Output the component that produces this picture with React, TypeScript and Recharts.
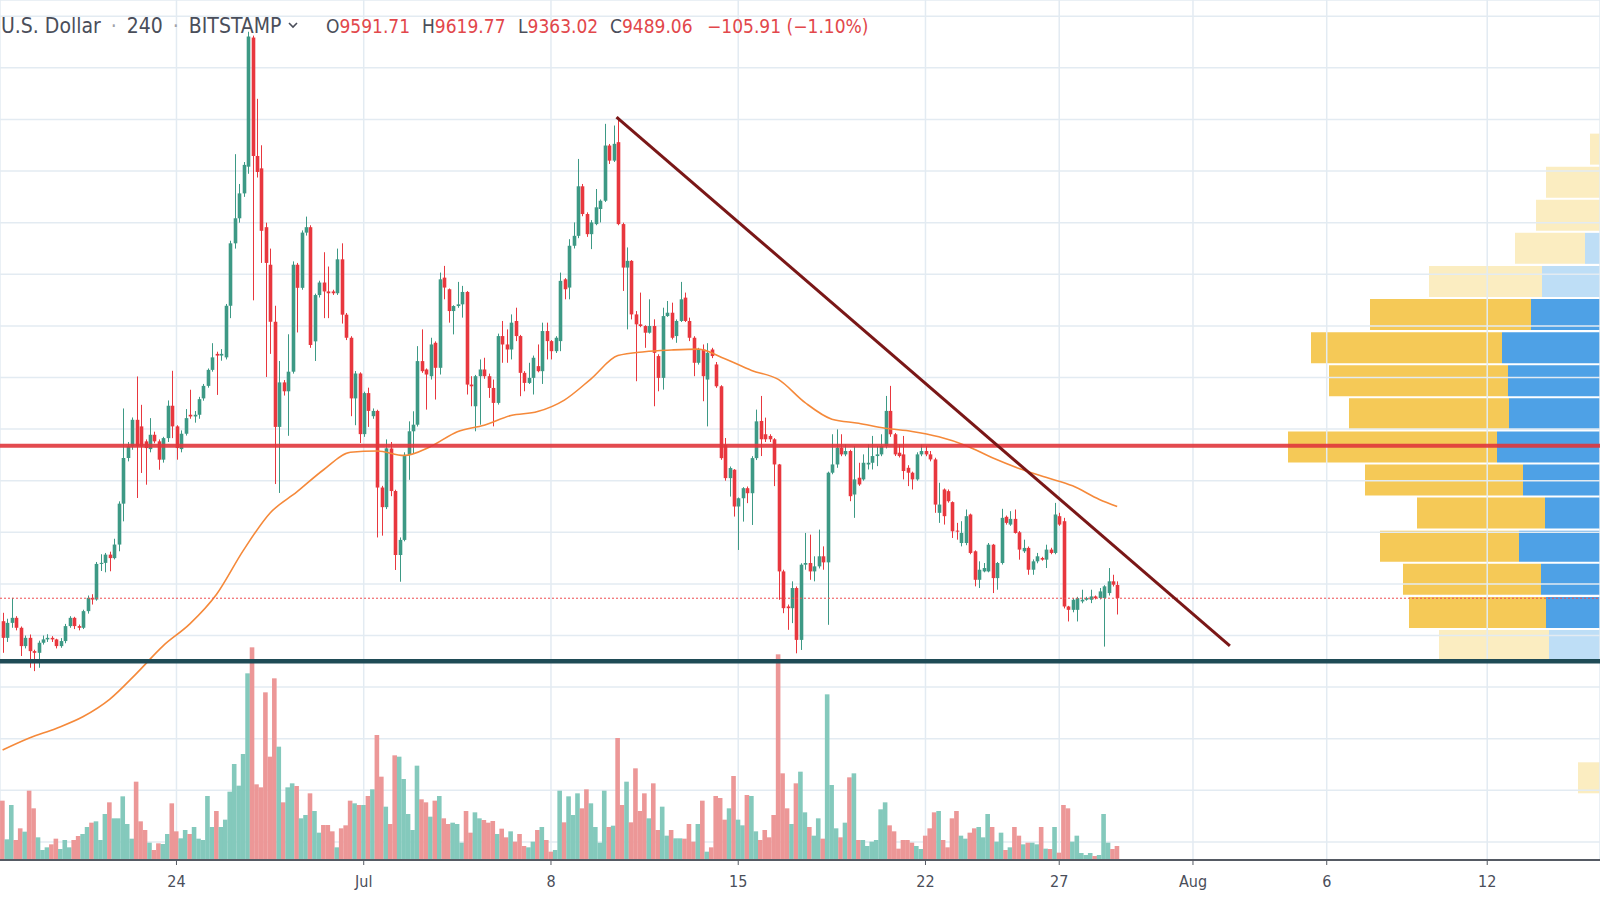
import React from 'react';
import { ComposedChart, BarChart, Bar, Line, XAxis, YAxis, CartesianGrid, ReferenceLine, Cell } from 'recharts';

const W = 1600;
const H = 900;

// BTC/USD Bitstamp, 4h bars. First bar: 17 Jun 12:00 UTC. Time unit = days since 1 Jun 00:00.
const firstBar = 16.5;
const timeDomain: [number, number] = [16.403, 76.216];
const priceDomain: [number, number] = [7460, 14126];

// [open, high, low, close]
const ohlc: [number, number, number, number][] = [
  [9311, 9376, 9066, 9182], [9182, 9330, 9150, 9298], [9298, 9492, 9260, 9337], // 17 Jun
  [9337, 9350, 9240, 9260], [9260, 9270, 9041, 9118], [9118, 9200, 9100, 9182], [9182, 9208, 8950, 9079], [9079, 9090, 8924, 9066], [9066, 9160, 8950, 9144], // 18
  [9144, 9200, 9130, 9170], [9170, 9210, 9150, 9182], [9182, 9195, 9150, 9170], [9170, 9175, 9100, 9118], [9118, 9180, 9105, 9157], [9157, 9290, 9140, 9273], // 19
  [9273, 9350, 9260, 9337], [9337, 9345, 9250, 9273], [9273, 9285, 9240, 9260], [9260, 9400, 9250, 9389], [9389, 9510, 9370, 9492], [9492, 9520, 9440, 9479], // 20
  [9479, 9770, 9470, 9755], [9755, 9830, 9700, 9763], [9763, 9840, 9690, 9827], [9827, 9850, 9698, 9800], [9800, 9950, 9790, 9905], [9905, 10240, 9853, 10222], // 21
  [10222, 10960, 10085, 10576], [10576, 10700, 10550, 10666], [10666, 10890, 10640, 10872], [10872, 11208, 10266, 10666], [10821, 10988, 10460, 10666], [10705, 10720, 10369, 10653], // 22
  [10645, 10885, 10620, 10756], [10756, 10780, 10690, 10705], [10705, 10720, 10485, 10563], [10563, 10740, 10540, 10730], [10730, 11022, 10700, 10981], [10981, 11252, 10730, 10821], // 23
  [10821, 10830, 10563, 10653], [10645, 10790, 10620, 10764], [10764, 10955, 10750, 10885], [10911, 11105, 10880, 10898], [10898, 10940, 10850, 10911], [10911, 11050, 10880, 11032], // 24
  [11038, 11150, 11020, 11135], [11135, 11270, 11121, 11259], [11259, 11466, 11245, 11356], [11383, 11400, 11065, 11370], [11370, 11420, 11330, 11383], [11356, 11770, 11340, 11756], // 25
  [11756, 12260, 11660, 12240], [12240, 12931, 12199, 12434], [12434, 12700, 12400, 12627], [12627, 12870, 12600, 12848], [12834, 13880, 12779, 13843], [13835, 13850, 11798, 12917], // 26
  [12917, 13360, 12750, 12793], [12821, 13000, 12088, 12337], [12365, 12400, 11204, 12088], [12074, 12199, 11383, 11632], [11632, 11756, 10374, 10817], [10817, 11328, 10305, 11162], // 27
  [11162, 11180, 11060, 11093], [11093, 11535, 10748, 11245], [11245, 12100, 11230, 12074], [12074, 12088, 11549, 11895], [11895, 12340, 11880, 12323], [12323, 12447, 12300, 12365], // 28
  [12365, 12380, 11430, 11452], [11480, 11850, 11328, 11839], [11839, 11950, 11820, 11936], [11936, 12171, 11660, 11867], [11867, 12060, 11660, 11853], [11867, 11880, 11840, 11853], // 29
  [11853, 12199, 11840, 12116], [12116, 12240, 11618, 11687], [11687, 11700, 11490, 11508], [11508, 11520, 10900, 11038], [11038, 11250, 10830, 11231], [11231, 11240, 10692, 10761], // 30
  [10761, 11090, 10740, 11079], [11079, 11121, 10817, 10941], [10900, 10960, 10880, 10941], [10941, 10950, 9960, 10347], [10347, 10360, 9974, 10195], [10195, 10720, 10180, 10651], // 1 Jul
  [10650, 10700, 10280, 10320], [10320, 10330, 9708, 9824], [9824, 9960, 9617, 9941], [9941, 10620, 9930, 10601], [10601, 10860, 10407, 10783], [10783, 10938, 10614, 10834], // 2
  [10834, 11443, 10820, 11327], [11327, 11573, 11236, 11249], [11262, 11270, 10951, 11223], [11210, 11508, 11184, 11456], [11469, 11480, 11029, 11275], [11275, 12013, 11223, 11961], // 3
  [11974, 12065, 11806, 11897], [11884, 11890, 11625, 11715], [11715, 11760, 11534, 11754], [11754, 11941, 11740, 11767], [11767, 11910, 11664, 11863], [11863, 11870, 11068, 11145], // 4
  [11145, 11210, 10977, 11132], [10977, 11220, 10783, 11210], [11210, 11340, 10834, 11262], [11262, 11353, 11190, 11210], [11210, 11230, 11042, 11119], [11119, 11184, 10821, 11003], // 5
  [11003, 11540, 10990, 11521], [11521, 11638, 11314, 11456], [11456, 11573, 11314, 11417], [11417, 11689, 11340, 11625], [11638, 11741, 11482, 11521], [11521, 11530, 11055, 11236], // 6
  [11236, 11249, 11093, 11158], [11158, 11314, 11150, 11197], [11197, 11370, 11068, 11353], [11288, 11456, 11240, 11249], [11249, 11625, 11150, 11560], [11560, 11625, 11340, 11482], // 7
  [11482, 11490, 11340, 11404], [11404, 11520, 11390, 11508], [11482, 12013, 11404, 11949], [11961, 11970, 11806, 11884], [11897, 12272, 11806, 12221], [12221, 12402, 12200, 12298], // 8
  [12298, 12894, 12280, 12682], [12682, 12700, 12450, 12467], [12467, 12480, 12290, 12311], [12311, 12420, 12195, 12402], [12389, 12661, 12380, 12519], [12506, 12580, 12402, 12570], // 9
  [12570, 13166, 12560, 12998], [12998, 13010, 12855, 12881], [12881, 13153, 12870, 13011], [13024, 13220, 12380, 12389], [12389, 12400, 11871, 12052], [12052, 12208, 11573, 12104], // 10
  [12104, 12110, 11650, 11689], [11689, 11715, 11171, 11612], [11612, 11858, 11590, 11599], [11599, 11605, 11430, 11547], [11547, 11806, 11540, 11599], [11599, 11651, 10977, 11391], // 11
  [11366, 11380, 11093, 11197], [11197, 11741, 11106, 11676], [11676, 11793, 11670, 11702], [11702, 11780, 11495, 11508], [11521, 11650, 11469, 11638], [11638, 11941, 11630, 11806], // 12
  [11819, 11858, 11630, 11638], [11638, 11664, 11482, 11508], [11508, 11520, 11210, 11314], [11314, 11430, 11300, 11417], [11417, 11456, 11016, 11210], [11184, 11466, 10821, 11391], // 13
  [11417, 11430, 11350, 11366], [11301, 11320, 11120, 11132], [11132, 11140, 10562, 10575], [10679, 10731, 10400, 10420], [10420, 10510, 10277, 10498], [10485, 10490, 10122, 10200], // 14
  [10200, 10270, 9863, 10264], [10264, 10350, 10083, 10342], [10342, 10355, 10226, 10303], [10303, 10590, 10057, 10575], [10575, 10951, 10560, 10860], [10863, 11057, 10591, 10721], // 15
  [10760, 10889, 10700, 10721], [10747, 10760, 10700, 10721], [10721, 10730, 10358, 10526], [10526, 10530, 9477, 9697], [9697, 9710, 9373, 9412], [9425, 9440, 9244, 9412], // 16
  [9412, 9620, 9296, 9568], [9568, 9580, 9062, 9166], [9166, 9760, 9088, 9749], [9749, 9995, 9710, 9762], [9762, 9982, 9632, 9697], [9697, 9814, 9620, 9736], // 17
  [9736, 10021, 9720, 9814], [9814, 9891, 9710, 9767], [9767, 10470, 9283, 10462], [10462, 10760, 10450, 10526], [10526, 10798, 10500, 10656], [10656, 10760, 10590, 10604], // 18
  [10604, 10682, 10590, 10630], [10630, 10640, 10241, 10280], [10293, 10669, 10112, 10410], [10423, 10539, 10360, 10371], [10410, 10604, 10400, 10539], [10526, 10682, 10487, 10539], // 19
  [10539, 10747, 10487, 10591], [10591, 10669, 10513, 10604], [10604, 10760, 10590, 10669], [10669, 11057, 10650, 10941], [10941, 11135, 10740, 10760], [10760, 10770, 10591, 10604], // 20
  [10617, 10682, 10580, 10591], [10604, 10747, 10410, 10475], [10500, 10520, 10358, 10462], [10462, 10470, 10332, 10410], [10410, 10620, 10400, 10604], [10604, 10682, 10590, 10630], // 21
  [10630, 10669, 10590, 10604], [10604, 10630, 10550, 10565], [10565, 10578, 10151, 10215], [10151, 10384, 10073, 10215], [10332, 10340, 10060, 10125], [10319, 10332, 10230, 10241], // 22
  [10234, 10240, 9956, 10008], [10013, 10073, 9943, 10008], [9917, 10086, 9891, 9995], [9917, 10177, 9900, 10125], [10138, 10145, 9830, 9840], [9853, 9860, 9581, 9632], // 23
  [9632, 9775, 9568, 9710], [9697, 9762, 9690, 9723], [9697, 9917, 9690, 9904], [9904, 9910, 9529, 9645], [9645, 9770, 9555, 9762], [9762, 10182, 9750, 10112], // 24
  [10120, 10130, 10060, 10073], [10060, 10164, 10050, 10104], [10104, 10177, 9990, 9995], [10000, 10010, 9788, 9866], [9853, 9943, 9840, 9879], [9879, 9890, 9671, 9710], // 25
  [9710, 9790, 9671, 9775], [9775, 9840, 9760, 9814], [9801, 9810, 9780, 9788], [9788, 9904, 9723, 9866], [9866, 9880, 9830, 9840], [9840, 10228, 9830, 10138], // 26
  [10125, 10151, 10050, 10060], [10086, 10112, 9410, 9425], [9425, 9430, 9309, 9399], [9399, 9490, 9380, 9477], [9399, 9500, 9309, 9490], [9464, 9555, 9450, 9477], // 27
  [9477, 9500, 9470, 9490], [9477, 9555, 9451, 9503], [9503, 9510, 9480, 9490], [9490, 9568, 9480, 9542], [9490, 9590, 9114, 9581], [9529, 9723, 9510, 9620], // 28
  [9620, 9671, 9580, 9594], [9591.71, 9619.77, 9363.02, 9489.06], // 29
];

const volumes: number[] = [
  178, 62, 165, 60, 95, 85, 208, 155, 68, 30, 38, 47, 64, 33, 60, 38, 60, 72, 78, 99,
  112, 116, 60, 138, 173, 125, 125, 191, 108, 64, 235, 116, 90, 52, 30, 50, 48, 78, 170, 86,
  65, 90, 78, 99, 64, 60, 192, 99, 147, 99, 121, 205, 288, 223, 318, 560, 638, 227, 218, 503,
  310, 545, 340, 173, 218, 230, 222, 125, 135, 200, 147, 82, 105, 105, 86, 38, 95, 104, 178, 170,
  165, 165, 192, 212, 375, 250, 160, 108, 314, 310, 243, 138, 90, 283, 182, 173, 130, 178, 192, 125,
  108, 112, 108, 52, 147, 82, 143, 125, 120, 112, 117, 78, 94, 68, 86, 55, 78, 42, 38, 55,
  90, 99, 60, 25, 30, 208, 113, 191, 135, 200, 155, 212, 170, 99, 52, 208, 99, 103, 366, 165,
  235, 113, 275, 147, 200, 125, 230, 90, 160, 73, 90, 65, 65, 64, 108, 55, 108, 178, 25, 38,
  192, 186, 121, 155, 252, 121, 104, 195, 192, 86, 60, 90, 68, 135, 617, 260, 155, 108, 230, 265,
  143, 99, 73, 125, 64, 497, 225, 95, 68, 112, 248, 260, 60, 60, 42, 55, 60, 152, 173, 104,
  86, 34, 60, 60, 52, 42, 33, 73, 95, 143, 147, 60, 38, 125, 147, 73, 64, 82, 95, 99,
  68, 138, 99, 55, 82, 30, 38, 99, 73, 47, 52, 52, 47, 99, 34, 33, 99, 22, 165, 155,
  55, 73, 21, 15, 21, 12, 15, 138, 52, 33, 42,
];

// moving average, read once per day: [bar index, value]
const maPoints: [number, number][] = [
  [0, 8312], [6, 8405], [12, 8480], [18, 8570], [24, 8705], [30, 8905], [36, 9120], [42, 9290],
  [48, 9520], [54, 9860], [60, 10150], [66, 10313], [72, 10485], [78, 10620], [84, 10630], [90, 10595],
  [96, 10665], [102, 10780], [108, 10830], [114, 10905], [120, 10936], [126, 11025], [132, 11190], [138, 11370],
  [144, 11400], [150, 11413], [156, 11420], [162, 11345], [168, 11255], [174, 11185], [180, 11005], [186, 10877],
  [192, 10845], [198, 10806], [204, 10782], [210, 10740], [216, 10673], [222, 10578], [228, 10495], [234, 10426],
  [240, 10360], [246, 10255], [250, 10200],
];

const dayTicks = [23, 30, 37, 44, 51, 56, 61, 66, 72];
const dayLabels = ['24', 'Jul', '8', '15', '22', '27', 'Aug', '6', '12'];
const priceTicks = [7600, 8000, 8400, 8800, 9200, 9600, 10000, 10400, 10800, 11200, 11600, 12000, 12400, 12800, 13200, 13600, 14000];

// visible range volume profile
const profilePrices = [12970, 12714, 12457, 12201, 11944, 11688, 11431, 11175, 10918, 10662, 10405, 10149, 9892, 9636, 9379, 9123, 8097];
const profileUp = [0, 0, 0, 75, 290, 345, 490, 460, 455, 515, 385, 275, 405, 295, 270, 255, 0];
const profileDown = [50, 270, 320, 350, 565, 805, 955, 895, 800, 1045, 790, 640, 695, 690, 685, 550, 110];
const valueArea = [false, false, false, false, false, true, true, true, true, true, true, true, true, true, true, false, false];

const pocLevel = 10670;
const supportLevel = 9000;
const lastClose = 9489.06;
const trendStart = { x: 39.45, y: 13219 };
const trendEnd = { x: 62.38, y: 9120 };

const UP = '#3d9985';
const DOWN = '#e8373e';
const VOL_UP = '#84c9bc';
const VOL_DOWN = '#ec9797';
const FONT = '"Liberation Sans Narrow", "DejaVu Sans Condensed", "Roboto", sans-serif';

const rows = ohlc.map(([open, high, low, close], i) => ({
  t: firstBar + i / 6,
  open, high, low, close,
  vol: volumes[i],
}));

const maRows = maPoints.map(([i, ma]) => ({ t: firstBar + i / 6, ma }));

const profileRows = profilePrices.map((price, i) => ({
  price, up: profileUp[i], down: profileDown[i], va: valueArea[i],
}));

const Candle = (props: any) => {
  const { x, y, width, height, payload } = props;
  if (x == null || y == null || !payload) return null;
  const top = Math.min(y, y + height);
  const bottom = Math.max(y, y + height);
  const span = payload.high - payload.low || 1;
  const toY = (v: number) => top + ((payload.high - v) / span) * (bottom - top);
  const up = payload.close >= payload.open;
  const color = up ? UP : DOWN;
  const cx = Math.round(x + width / 2) + 0.5;
  const b1 = toY(Math.max(payload.open, payload.close));
  const b2 = toY(Math.min(payload.open, payload.close));
  return (
    <g>
      <line x1={cx} x2={cx} y1={top} y2={bottom} stroke={color} strokeWidth={1} />
      <rect x={cx - 1.8} y={b1} width={3.6} height={Math.max(1, b2 - b1)} fill={color} />
    </g>
  );
};

const VolumeBar = (props: any) => {
  const { x, y, width, height, payload } = props;
  if (x == null || y == null || !payload) return null;
  const cx = x + width / 2;
  return (
    <rect x={cx - 2.3} y={Math.min(y, y + height)} width={4.6} height={Math.abs(height)}
      fill={payload.close >= payload.open ? VOL_UP : VOL_DOWN} />
  );
};

const Chevron = () => (
  <svg width="12" height="10" style={{ marginLeft: 6, marginBottom: 3 }}>
    <polyline points="2,3 6,7 10,3" fill="none" stroke="#4a4e5a" strokeWidth="1.6" />
  </svg>
);

export default function App() {
  const label = { color: '#4a4e5a' };
  const red = { color: '#e2474b' };
  const dot = { color: '#a0a3ab', margin: '0 10px' };
  return (
    <div style={{ position: 'absolute', left: 0, top: 0, width: W, height: H, overflow: 'hidden', background: '#fff' }}>
      <div style={{ position: 'absolute', left: 0, top: 0 }}>
        <BarChart layout="vertical" width={W} height={H} data={profileRows} margin={{ top: 0, right: 0, bottom: 40, left: 0 }}>
          <XAxis type="number" domain={[0, 8000]} reversed hide allowDataOverflow />
          <YAxis type="number" dataKey="price" domain={priceDomain} reversed hide allowDataOverflow />
          <Bar dataKey="up" stackId="vp" barSize={31} isAnimationActive={false}>
            {profileRows.map((r, i) => <Cell key={i} fill={r.va ? '#4ea1e6' : '#bedef6'} />)}
          </Bar>
          <Bar dataKey="down" stackId="vp" barSize={31} isAnimationActive={false}>
            {profileRows.map((r, i) => <Cell key={i} fill={r.va ? '#f5c957' : '#fbedc1'} />)}
          </Bar>
        </BarChart>
      </div>
      <div style={{ position: 'absolute', left: 0, top: 0 }}>
        <ComposedChart width={W} height={H} data={rows} margin={{ top: 0, right: 0, bottom: 0, left: 0 }}>
          <CartesianGrid xAxisId="t" yAxisId="p" stroke="#e3ebf2" strokeWidth={1.5} />
          <XAxis
            xAxisId="t" type="number" dataKey="t" domain={timeDomain} allowDataOverflow
            ticks={dayTicks} interval={0} height={40}
            tickFormatter={(v: number) => dayLabels[dayTicks.indexOf(v)] ?? ''}
            tick={{ fill: '#4a4e5a', fontSize: 16, fontFamily: FONT }}
            tickSize={5} tickMargin={11}
            tickLine={{ stroke: '#555a63' }} axisLine={{ stroke: '#555a63', strokeWidth: 2 }}
          />
          <XAxis xAxisId="vx" type="number" dataKey="t" domain={timeDomain} allowDataOverflow hide />
          <YAxis yAxisId="p" type="number" domain={priceDomain} ticks={priceTicks} allowDataOverflow hide />
          <YAxis yAxisId="vol" type="number" domain={[0, 2580]} allowDataOverflow hide />
          <Bar xAxisId="vx" yAxisId="vol" dataKey="vol" barSize={4} shape={<VolumeBar />} isAnimationActive={false} />
          <Line xAxisId="t" yAxisId="p" data={maRows} dataKey="ma" type="monotone" dot={false} activeDot={false}
            stroke="#f5893a" strokeWidth={1.6} isAnimationActive={false} />
          <ReferenceLine xAxisId="t" yAxisId="p" y={lastClose} stroke="#ef4b4f" strokeWidth={1} strokeDasharray="2 2" />
          <Bar xAxisId="t" yAxisId="p" dataKey={(d: any) => [d.low, d.high]} barSize={3}
            shape={<Candle />} isAnimationActive={false} />
          <ReferenceLine xAxisId="t" yAxisId="p" y={pocLevel} stroke="#e0363c" strokeOpacity={0.9} strokeWidth={4} />
          <ReferenceLine xAxisId="t" yAxisId="p" y={supportLevel} stroke="#1f4b56" strokeWidth={4.5} />
          <ReferenceLine xAxisId="t" yAxisId="p" segment={[trendStart, trendEnd]} stroke="#7a1717" strokeWidth={3} />
        </ComposedChart>
      </div>
      <div style={{ position: 'absolute', left: 0, top: 13, height: 26, lineHeight: '26px', fontFamily: FONT, whiteSpace: 'nowrap', width: W }}>
        <span style={{ position: 'absolute', left: 1, fontSize: 21, ...label }}>
          U.S. Dollar<span style={dot}>·</span>240<span style={dot}>·</span>BITSTAMP<Chevron />
        </span>
        <span style={{ position: 'absolute', left: 326, fontSize: 19 }}><span style={label}>O</span><span style={red}>9591.71</span></span>
        <span style={{ position: 'absolute', left: 422, fontSize: 19 }}><span style={label}>H</span><span style={red}>9619.77</span></span>
        <span style={{ position: 'absolute', left: 518, fontSize: 19 }}><span style={label}>L</span><span style={red}>9363.02</span></span>
        <span style={{ position: 'absolute', left: 610, fontSize: 19 }}><span style={label}>C</span><span style={red}>9489.06</span></span>
        <span style={{ position: 'absolute', left: 707, fontSize: 19, ...red }}>−105.91 (−1.10%)</span>
      </div>
    </div>
  );
}
